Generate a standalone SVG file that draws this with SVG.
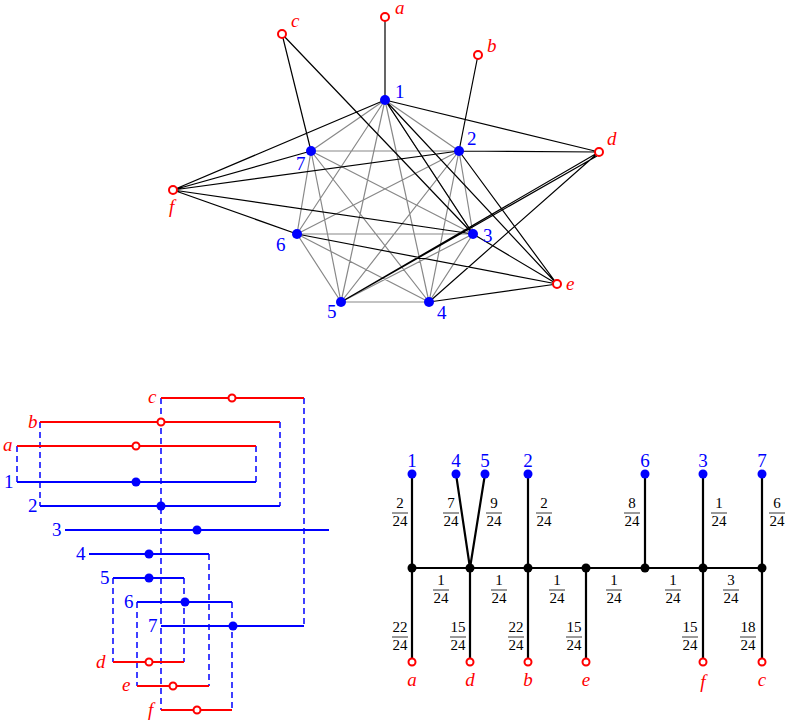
<svg xmlns="http://www.w3.org/2000/svg" width="789" height="721" viewBox="0 0 789 721">
<style>
.g{stroke:#888;stroke-width:1.2;fill:none}
.k{stroke:#000;stroke-width:1.2;fill:none}
.bd{fill:#00f}
.rc{fill:#fff;stroke:#f00;stroke-width:2}
.bl{font-family:"Liberation Serif",serif;font-size:19px;fill:#00f}
.rl{font-family:"Liberation Serif",serif;font-style:italic;font-size:19px;fill:#f00}
.rh{stroke:#f00;stroke-width:2}
.bh{stroke:#00f;stroke-width:2}
.ds{stroke:#00f;stroke-width:1.5;stroke-dasharray:6,4}
.t{stroke:#000;stroke-width:2.2}
.fr{font-family:"Liberation Serif",serif;font-size:15px;fill:#000;text-anchor:middle}
.fl{stroke:#000;stroke-width:0.8}
</style>
<g id="connectors">
<g class="g">
<path d="M385 100L459 151M385 100L311 151M385 100L473 234M385 100L297 234M385 100L341 302M385 100L429 302M459 151L311 151M459 151L473 234M459 151L297 234M459 151L341 302M459 151L429 302M311 151L473 234M311 151L297 234M311 151L341 302M311 151L429 302M473 234L297 234M473 234L341 302M473 234L429 302M297 234L341 302M297 234L429 302M341 302L429 302"/>
</g>
<g class="k">
<path d="M385 17L385 100M478 55L459 151M282 34L311 151M282 34L473 234M599 152L385 100M599 152L459 151M599 152L341 302M597 156L341 302M599 152L429 302M557 284L385 100M385 100L473 234M557 284L459 151M557 284L473 234M557 284L297 234M557 284L429 302M173 190L385 100M173 190L311 151M173 190L459 151M173 190L473 234M173 190L297 234"/>
</g>
<g id="bl-lines">
<path class="ds" d="M17 446V482M40 422V506M161 398V710M256 446V482M280 422V506M304 398V626M113 578V662M184 578V662M137 602V686M209 554V686M232 602V710"/>
<path class="rh" d="M161 398H304M40 422H280M17 446H256M113 662H184M137 686H209M161 710H232"/>
<path class="bh" d="M17 482H256M40 506H280M65 530H329M89 554H209M113 578H184M137 602H232M161 626H304"/>
</g>
<g id="tree-lines" class="t">
<path d="M412 568H762M412 474V662M456 474L470 568M485 474L470 568M470 568V662M528 474V662M586 568V662M645 474V568M703 474V662M762 474V662"/>
</g>
</g>
<g id="n1"><circle class="bd" cx="385" cy="100" r="5"/><text class="bl" x="395" y="98">1</text></g>
<g id="n2"><circle class="bd" cx="459" cy="151" r="5"/><text class="bl" x="467" y="145">2</text></g>
<g id="n3"><circle class="bd" cx="473" cy="234" r="5"/><text class="bl" x="483" y="242">3</text></g>
<g id="n4"><circle class="bd" cx="429" cy="302" r="5"/><text class="bl" x="437" y="319">4</text></g>
<g id="n5"><circle class="bd" cx="341" cy="302" r="5"/><text class="bl" x="327" y="318">5</text></g>
<g id="n6"><circle class="bd" cx="297" cy="234" r="5"/><text class="bl" x="276" y="251">6</text></g>
<g id="n7"><circle class="bd" cx="311" cy="151" r="5"/><text class="bl" x="296" y="170">7</text></g>
<g id="na"><circle class="rc" cx="385" cy="17" r="4"/><text class="rl" x="395" y="14">a</text></g>
<g id="nb"><circle class="rc" cx="478" cy="55" r="4"/><text class="rl" x="487" y="52">b</text></g>
<g id="nc"><circle class="rc" cx="282" cy="34" r="4"/><text class="rl" x="291" y="27">c</text></g>
<g id="nd"><circle class="rc" cx="599" cy="152" r="4"/><text class="rl" x="607" y="145">d</text></g>
<g id="ne"><circle class="rc" cx="557" cy="284" r="4"/><text class="rl" x="566" y="290">e</text></g>
<g id="nf"><circle class="rc" cx="173" cy="190" r="4"/><text class="rl" x="169" y="213">f</text></g>

<g id="bottom-left">
<circle class="rc" cx="232" cy="398" r="3.5"/><circle class="rc" cx="161" cy="422" r="3.5"/><circle class="rc" cx="136" cy="446" r="3.5"/>
<circle class="rc" cx="149" cy="662" r="3.5"/><circle class="rc" cx="173" cy="686" r="3.5"/><circle class="rc" cx="197" cy="710" r="3.5"/>
<circle class="bd" cx="136" cy="482" r="4.5"/><circle class="bd" cx="161" cy="506" r="4.5"/><circle class="bd" cx="197" cy="530" r="4.5"/><circle class="bd" cx="149" cy="554" r="4.5"/><circle class="bd" cx="149" cy="578" r="4.5"/><circle class="bd" cx="185" cy="602" r="4.5"/><circle class="bd" cx="233" cy="626" r="4.5"/>
<text class="rl" x="148" y="403">c</text><text class="rl" x="28" y="428">b</text><text class="rl" x="3" y="451">a</text>
<text class="rl" x="96" y="668">d</text><text class="rl" x="122" y="691">e</text><text class="rl" x="148" y="716">f</text>
<text class="bl" x="4" y="488">1</text><text class="bl" x="28" y="512">2</text><text class="bl" x="52" y="536">3</text><text class="bl" x="76" y="560">4</text><text class="bl" x="100" y="584">5</text><text class="bl" x="124" y="608">6</text><text class="bl" x="148" y="632">7</text>
</g>

<g id="bottom-right">
<circle class="bd" cx="412" cy="474" r="4.5"/><circle class="bd" cx="456" cy="474" r="4.5"/><circle class="bd" cx="485" cy="474" r="4.5"/><circle class="bd" cx="528" cy="474" r="4.5"/><circle class="bd" cx="645" cy="474" r="4.5"/><circle class="bd" cx="703" cy="474" r="4.5"/><circle class="bd" cx="762" cy="474" r="4.5"/>
<g fill="#000"><circle cx="412" cy="568" r="4.5"/><circle cx="470" cy="568" r="4.5"/><circle cx="528" cy="568" r="4.5"/><circle cx="586" cy="568" r="4.5"/><circle cx="645" cy="568" r="4.5"/><circle cx="703" cy="568" r="4.5"/><circle cx="762" cy="568" r="4.5"/></g>
<circle class="rc" cx="412" cy="662" r="3.5"/><circle class="rc" cx="470" cy="662" r="3.5"/><circle class="rc" cx="528" cy="662" r="3.5"/><circle class="rc" cx="586" cy="662" r="3.5"/><circle class="rc" cx="703" cy="662" r="3.5"/><circle class="rc" cx="762" cy="662" r="3.5"/>
<g class="bl" text-anchor="middle"><text x="412" y="467">1</text><text x="456" y="467">4</text><text x="485" y="467">5</text><text x="528" y="467">2</text><text x="645" y="467">6</text><text x="703" y="467">3</text><text x="762" y="467">7</text></g>
<g class="rl" text-anchor="middle"><text x="412" y="686">a</text><text x="470" y="686">d</text><text x="528" y="686">b</text><text x="586" y="686">e</text><text x="703" y="688">f</text><text x="762" y="686">c</text></g>
<g class="fr">
<text x="400" y="508">2</text><text x="400" y="526">24</text>
<text x="451" y="508">7</text><text x="451" y="526">24</text>
<text x="494" y="508">9</text><text x="494" y="526">24</text>
<text x="544" y="508">2</text><text x="544" y="526">24</text>
<text x="632" y="508">8</text><text x="632" y="526">24</text>
<text x="719" y="508">1</text><text x="719" y="526">24</text>
<text x="777" y="508">6</text><text x="777" y="526">24</text>
<text x="441" y="585">1</text><text x="441" y="603">24</text>
<text x="499" y="585">1</text><text x="499" y="603">24</text>
<text x="557" y="585">1</text><text x="557" y="603">24</text>
<text x="614" y="585">1</text><text x="614" y="603">24</text>
<text x="673" y="585">1</text><text x="673" y="603">24</text>
<text x="731" y="585">3</text><text x="731" y="603">24</text>
<text x="400" y="632">22</text><text x="400" y="650">24</text>
<text x="458" y="632">15</text><text x="458" y="650">24</text>
<text x="516" y="632">22</text><text x="516" y="650">24</text>
<text x="574" y="632">15</text><text x="574" y="650">24</text>
<text x="690" y="632">15</text><text x="690" y="650">24</text>
<text x="748" y="632">18</text><text x="748" y="650">24</text>
</g>
<path class="fl" d="M392 513H408M443 513H459M486 513H502M536 513H552M624 513H640M711 513H727M769 513H785M433 590H449M491 590H507M549 590H565M606 590H622M665 590H681M723 590H739M392 637H408M450 637H466M508 637H524M566 637H582M682 637H698M740 637H756"/>
</g>
</svg>
